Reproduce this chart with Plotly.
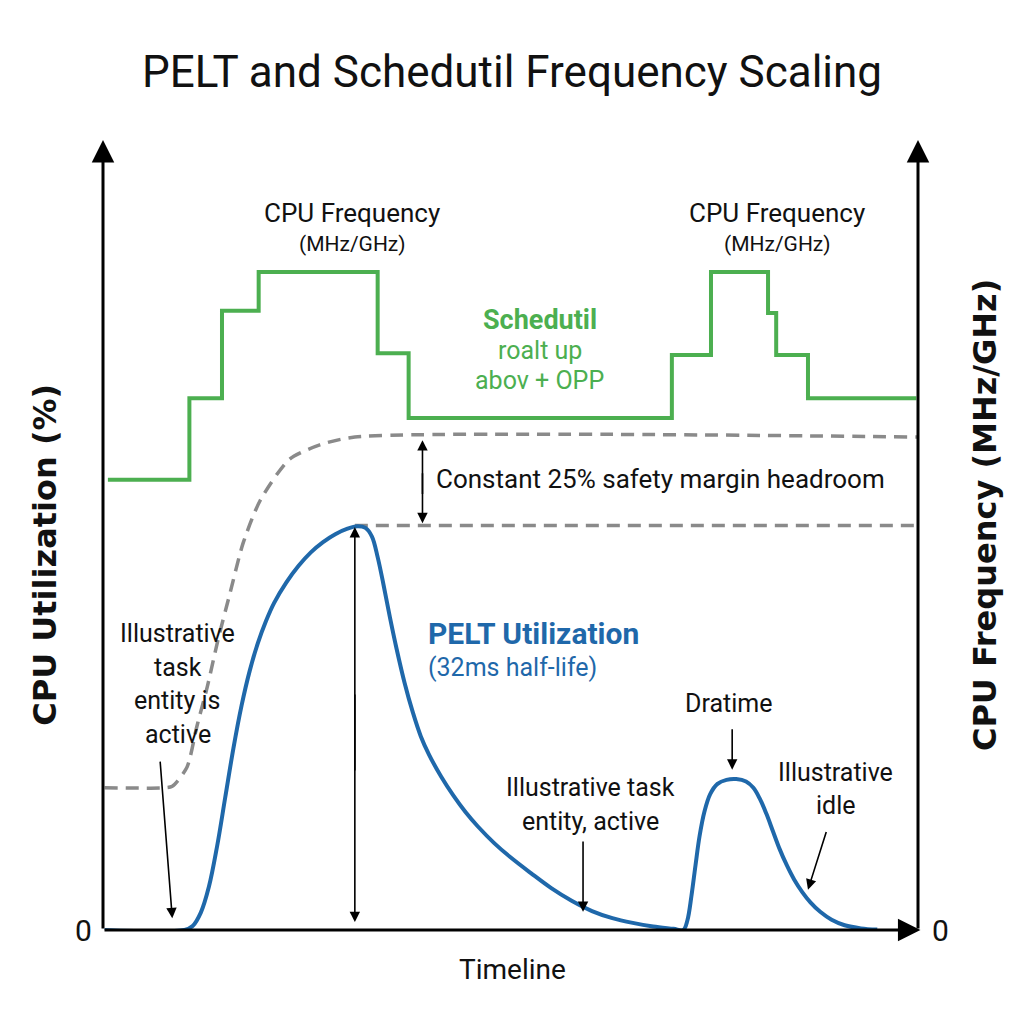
import plotly.graph_objects as go

# ---------------- data (x: timeline units 0-100, y: % of scale 0-100) ----------------
freq_x = [0.6, 10.6, 14.6, 19.1, 33.7, 37.5, 69.8, 74.6, 81.6, 82.6, 86.5, 99.8]
freq_y = [57.0, 67.3, 78.4, 83.3, 73.0, 64.8, 72.8, 83.3, 78.1, 72.8, 67.3, 67.3]

pelt_x = [0.2, 10.0, 11.0, 12.0, 13.0, 14.0, 15.0, 16.0, 17.0, 18.0, 19.0, 20.0, 21.0,
          22.5, 24.0, 25.5, 27.0, 28.5, 30.0, 31.2, 32.2,
          33.0, 33.7, 34.4, 35.2, 36.0, 37.0, 38.0, 39.0, 40.0, 41.5, 43.0, 44.5,
          46.0, 48.0, 50.0, 52.5, 55.0, 57.5, 60.0, 62.5, 65.0, 67.5, 70.0, 71.2,
          71.7, 72.2, 72.7, 73.2, 73.8, 74.5, 75.4, 76.5, 77.7, 78.9, 79.8, 80.6,
          81.4, 82.2, 83.0, 83.9, 84.8, 85.8, 86.8, 88.0, 89.4, 91.0, 93.0, 95.0]
pelt_y = [0.0, 0.0, 0.5, 2.2, 5.5, 10.6, 16.8, 23.0, 28.4, 32.8, 36.3, 39.1, 41.4,
          44.0, 46.1, 47.8, 49.1, 50.1, 50.8, 51.1, 50.9,
          49.8, 47.2, 43.8, 39.6, 35.7, 31.3, 27.6, 24.5, 22.2, 19.4, 17.0, 14.9,
          13.1, 11.0, 9.2, 7.2, 5.3, 3.7, 2.4, 1.5, 0.9, 0.45, 0.15, 0.0,
          1.2, 4.3, 8.2, 11.9, 15.0, 17.2, 18.5, 19.0, 19.1, 18.8, 18.0, 16.6,
          14.7, 12.5, 10.3, 8.2, 6.4, 4.8, 3.5, 2.3, 1.3, 0.6, 0.2, 0.05]

margin_x = [0.2, 7.4, 8.5, 10.3, 11.5, 12.8, 14.1, 15.6, 17.2, 19.3, 22.9, 26.6, 30.9, 100.0]
margin_y = [18.0, 18.0, 18.2, 20.6, 25.7, 30.8, 36.7, 42.7, 49.0, 54.4, 59.6, 61.4, 62.4, 62.4]

peak_x = [30.9, 100.0]
peak_y = [51.2, 51.2]

GREEN = "#4caf50"
BLUE = "#1f68aa"
GRAY = "#8a8a8a"
FONT = "Roboto, Liberation Sans, sans-serif"
BOLDFONT = "DejaVu Sans, Liberation Sans, sans-serif"
DASH = "13px,8px"

fig = go.Figure()
fig.add_trace(go.Scatter(x=freq_x, y=freq_y, mode="lines", line=dict(color=GREEN, width=4, shape="hv")))
fig.add_trace(go.Scatter(x=margin_x, y=margin_y, mode="lines",
                         line=dict(color=GRAY, width=3.5, dash=DASH, shape="spline", smoothing=0.7)))
fig.add_trace(go.Scatter(x=peak_x, y=peak_y, mode="lines", line=dict(color=GRAY, width=3.5, dash=DASH)))
fig.add_trace(go.Scatter(x=pelt_x, y=pelt_y, mode="lines",
                         line=dict(color=BLUE, width=4, shape="spline", smoothing=1.0)))

ann = []

def text(x, y, t, size, color="#111", bold=False, xanchor="center", angle=0, family=FONT, ref="x"):
    ann.append(dict(x=x, y=y, xref=ref, yref=("y" if ref == "x" else "paper"),
                    text=("<b>%s</b>" % t) if bold else t,
                    showarrow=False, xanchor=xanchor, yanchor="middle", textangle=angle,
                    font=dict(size=size, color=color, family=family)))

def arrow(x, y, ax, ay, width=1.6, size=1.3, head=2):
    ann.append(dict(x=x, y=y, ax=ax, ay=ay, xref="x", yref="y", axref="x", ayref="y",
                    text="", showarrow=True, arrowhead=head, arrowsize=size,
                    arrowwidth=width, arrowcolor="#000"))

# axes
arrow(0, 100, 0, 0, width=3, size=1.5)
arrow(100, 100, 100, 0, width=3, size=1.5)
arrow(100.3, 0, 0, 0, width=3, size=1.5)

# title and axis labels (paper coordinates, outside the plotting area)
text(0.502, 1.086, "PELT and Schedutil Frequency Scaling", 44, ref="paper")
text(-0.0712, 0.475, "CPU Utilization (%)", 32, bold=True, angle=-90, family=BOLDFONT, ref="paper")
text(1.082, 0.525, "CPU Frequency (MHz/GHz)", 32, bold=True, angle=-90, family=BOLDFONT, ref="paper")
text(-0.0245, 0.0, "0", 30, ref="paper")
text(1.027, 0.0, "0", 30, ref="paper")
text(0.502, -0.0506, "Timeline", 28, ref="paper")

# frequency labels
for cx in (30.6, 82.7):
    text(cx, 90.8, "CPU Frequency", 26)
    text(cx, 86.8, "(MHz/GHz)", 21)

text(53.6, 77.2, "Schedutil", 27, color=GREEN, bold=True)
text(53.6, 73.3, "roalt up", 25, color=GREEN)
text(53.6, 69.6, "abov + OPP", 25, color=GREEN)

# headroom
text(40.6, 57.1, "Constant 25% safety margin headroom", 26, xanchor="left")
arrow(39.2, 62.0, 39.2, 55.0)
arrow(39.2, 51.5, 39.2, 58.0)

# peak arrow
arrow(30.9, 51.0, 30.9, 20.0)
arrow(30.9, 1.0, 30.9, 30.0)

text(39.6, 37.5, "PELT Utilization", 30, color=BLUE, bold=True, xanchor="left")
text(39.6, 33.2, "(32ms half-life)", 25, color=BLUE, xanchor="left")

for i, line in enumerate(["Illustrative", "task", "entity is", "active"]):
    text(9.2, 37.5 - i * 4.25, line, 25)
arrow(8.5, 1.5, 7.0, 21.5)

text(59.8, 18.0, "Illustrative task", 25)
text(59.8, 13.7, "entity, active", 25)
arrow(58.9, 2.3, 58.9, 11.4)

text(76.7, 28.7, "Dratime", 25)
arrow(77.2, 20.3, 77.2, 25.6)

text(89.9, 19.9, "Illustrative", 25)
text(89.9, 15.8, "idle", 25)
arrow(86.5, 5.1, 88.8, 12.6)

fig.update_layout(
    width=1024, height=1024,
    margin=dict(l=95, r=114, t=132, b=102),
    paper_bgcolor="white", plot_bgcolor="white",
    showlegend=False,
    xaxis=dict(range=[0, 100], visible=False, fixedrange=True),
    yaxis=dict(range=[0, 100], visible=False, fixedrange=True),
    annotations=ann,
)

fig.write_html("out.html")
